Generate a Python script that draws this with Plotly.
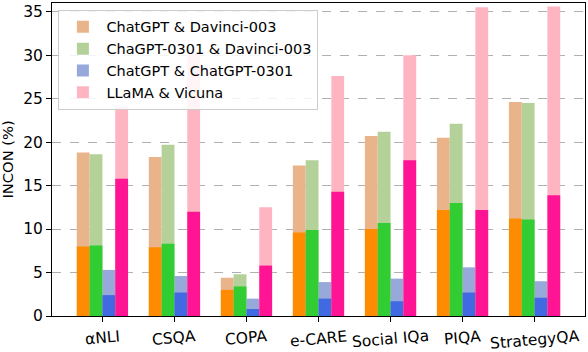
import plotly.graph_objects as go

categories = ["αNLI", "CSQA", "COPA", "e-CARE", "Social IQa", "PIQA", "StrategyQA"]
series_names = ["ChatGPT & Davinci-003", "ChaGPT-0301 & Davinci-003",
                "ChatGPT & ChatGPT-0301", "LLaMA & Vicuna"]

# total (light top of bar) and lower (dark part) values, per series
gpt_davinci_total = [18.8, 18.3, 4.4, 17.3, 20.7, 20.5, 24.6]
gpt_davinci_low = [8.0, 7.9, 3.0, 9.6, 10.0, 12.2, 11.2]
gpt0301_davinci_total = [18.6, 19.7, 4.8, 17.9, 21.2, 22.1, 24.5]
gpt0301_davinci_low = [8.1, 8.3, 3.4, 9.9, 10.7, 13.0, 11.1]
gpt_gpt0301_total = [5.3, 4.6, 2.0, 3.9, 4.3, 5.6, 4.0]
gpt_gpt0301_low = [2.4, 2.7, 0.8, 2.0, 1.7, 2.7, 2.1]
llama_vicuna_total = [24.1, 30.2, 12.5, 27.6, 30.0, 35.5, 35.6]
llama_vicuna_low = [15.8, 12.0, 5.8, 14.3, 17.9, 12.2, 13.9]

totals = [gpt_davinci_total, gpt0301_davinci_total, gpt_gpt0301_total, llama_vicuna_total]
lows = [gpt_davinci_low, gpt0301_davinci_low, gpt_gpt0301_low, llama_vicuna_low]
light_colors = ["#E9B48A", "#B3D198", "#96A9DA", "#FFB4C1"]
dark_colors = ["#FF8C00", "#32CD32", "#4169E1", "#FF1493"]

bar_w = 0.178
offsets = [-1.5 * bar_w, -0.5 * bar_w, 0.5 * bar_w, 1.5 * bar_w]
idx = list(range(len(categories)))

fig = go.Figure()
for k in range(4):
    xs = [i + offsets[k] for i in idx]
    fig.add_trace(go.Bar(x=xs, y=totals[k], width=bar_w, name=series_names[k],
                         marker=dict(color=light_colors[k], line=dict(width=0)),
                         showlegend=True))
for k in range(4):
    xs = [i + offsets[k] for i in idx]
    fig.add_trace(go.Bar(x=xs, y=lows[k], width=bar_w, name=series_names[k],
                         marker=dict(color=dark_colors[k], line=dict(width=0)),
                         showlegend=False))

font = "DejaVu Sans"
for i, c in zip(idx, categories):
    fig.add_annotation(x=i, y=0, xref="x", yref="paper", text=c, showarrow=False,
                       textangle=-5, yanchor="top", xanchor="center", yshift=-9,
                       font=dict(family=font, size=15.5, color="black"))

# y-axis title
fig.add_annotation(x=-45 / 533, y=0.5, xref="paper", yref="paper", text="INCON (%)",
                   showarrow=False, textangle=-90, xanchor="center", yanchor="middle",
                   font=dict(family=font, size=14.7, color="black"))

fig.update_layout(
    width=588, height=352,
    margin=dict(l=52, r=3, t=3, b=36),
    barmode="overlay",
    plot_bgcolor="white", paper_bgcolor="white",
    font=dict(family=font, size=15.5, color="black"),
    legend=dict(x=0.012, y=0.978, xanchor="left", yanchor="top",
                bgcolor="rgba(255,255,255,0.85)", bordercolor="#cccccc", borderwidth=1,
                font=dict(size=14.5), tracegroupgap=0, itemwidth=37),
    xaxis=dict(range=[-0.70, 6.70], tickmode="array", tickvals=idx, ticktext=categories,
               showticklabels=False, automargin=False,
               showline=True, linecolor="black", linewidth=1, mirror=True,
               ticks="outside", ticklen=5, tickcolor="black", showgrid=False, zeroline=False),
    yaxis=dict(range=[0, 36.0], tickvals=[0, 5, 10, 15, 20, 25, 30, 35], automargin=False,
               showline=True, linecolor="black", linewidth=1, mirror=True,
               ticks="outside", ticklen=5, tickcolor="black",
               tickfont=dict(size=15.5),
               showgrid=True, gridcolor="#b0b0b0", griddash="dash", gridwidth=1,
               zeroline=False),
)

fig.write_html("out.html", config={"displayModeBar": False},
               post_script="document.body.style.margin='0px';")
